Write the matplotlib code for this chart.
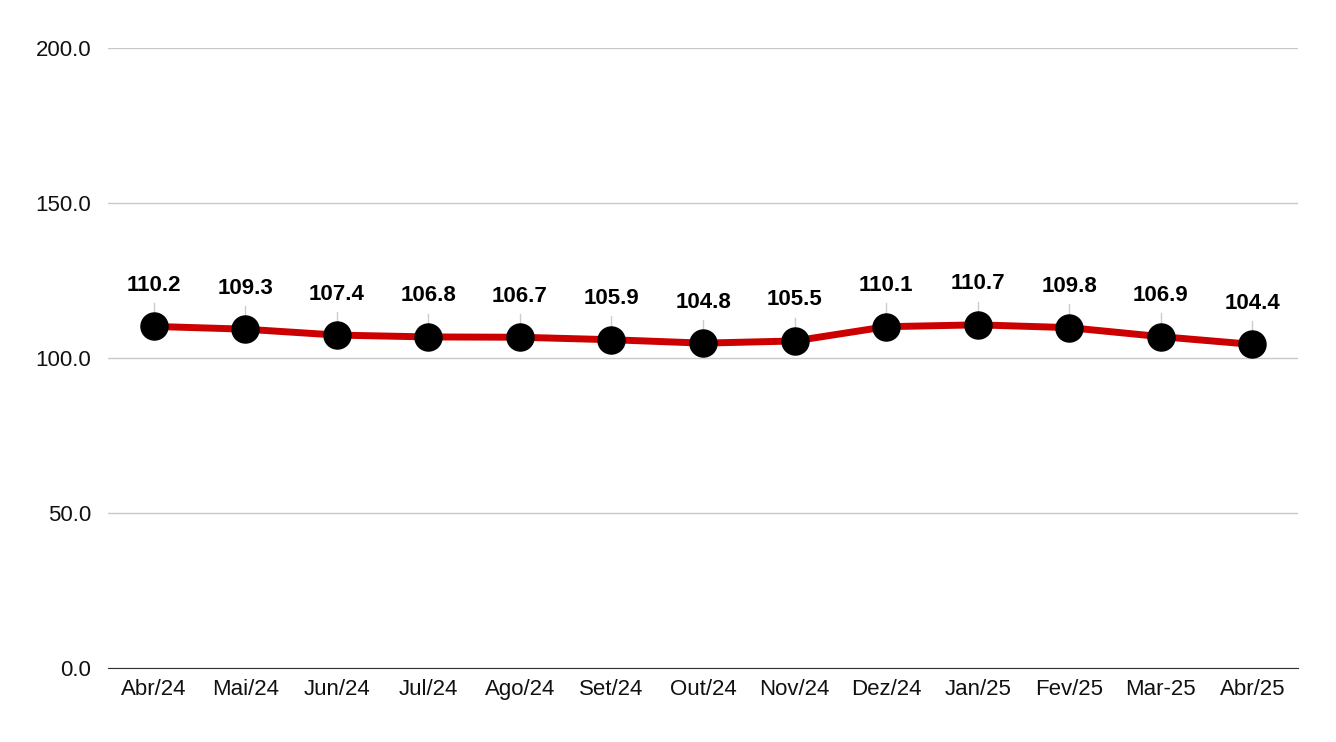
import matplotlib
matplotlib.use("Agg")
import matplotlib.pyplot as plt

months = ["Abr/24","Mai/24","Jun/24","Jul/24","Ago/24","Set/24","Out/24","Nov/24","Dez/24","Jan/25","Fev/25","Mar-25","Abr/25"]
values = [110.2,109.3,107.4,106.8,106.7,105.9,104.8,105.5,110.1,110.7,109.8,106.9,104.4]
yticks = [0, 50, 100, 150, 200]

plt.rcParams['font.family'] = ['Liberation Sans', 'DejaVu Sans']
fig = plt.figure(figsize=(13.36, 7.42), dpi=100)
ax = fig.add_axes([0.0808, 0.0997, 0.8908, 0.8356])
x = list(range(len(months)))
ax.plot(x, values, color='#cc0000', lw=5, zorder=3)
ax.scatter(x, values, s=380, color='black', zorder=4)
for xi, v in zip(x, values):
    ax.plot([xi, xi], [v + 2.6, v + 7.5], color='#cccccc', lw=1, zorder=2)
    ax.annotate(f"{v:.1f}", (xi, v), xytext=(0, 22), textcoords='offset points',
                ha='center', va='bottom', fontsize=16, fontweight='bold')
ax.set_xlim(-0.5, len(months) - 0.5)
ax.set_ylim(0, 200)
ax.set_yticks(yticks)
ax.set_yticklabels([f"{t:.1f}" for t in yticks])
ax.set_xticks(x)
ax.set_xticklabels(months)
ax.tick_params(axis='both', length=0, labelsize=16, colors='#111111')
ax.tick_params(axis='y', pad=12)
ax.tick_params(axis='x', pad=8)
ax.grid(axis='y', color='#c8c8c8', lw=1)
ax.set_axisbelow(True)
for s in ['top', 'right', 'left']:
    ax.spines[s].set_visible(False)
ax.spines['bottom'].set_color('#333333')
fig.savefig('out.png', dpi=100)
